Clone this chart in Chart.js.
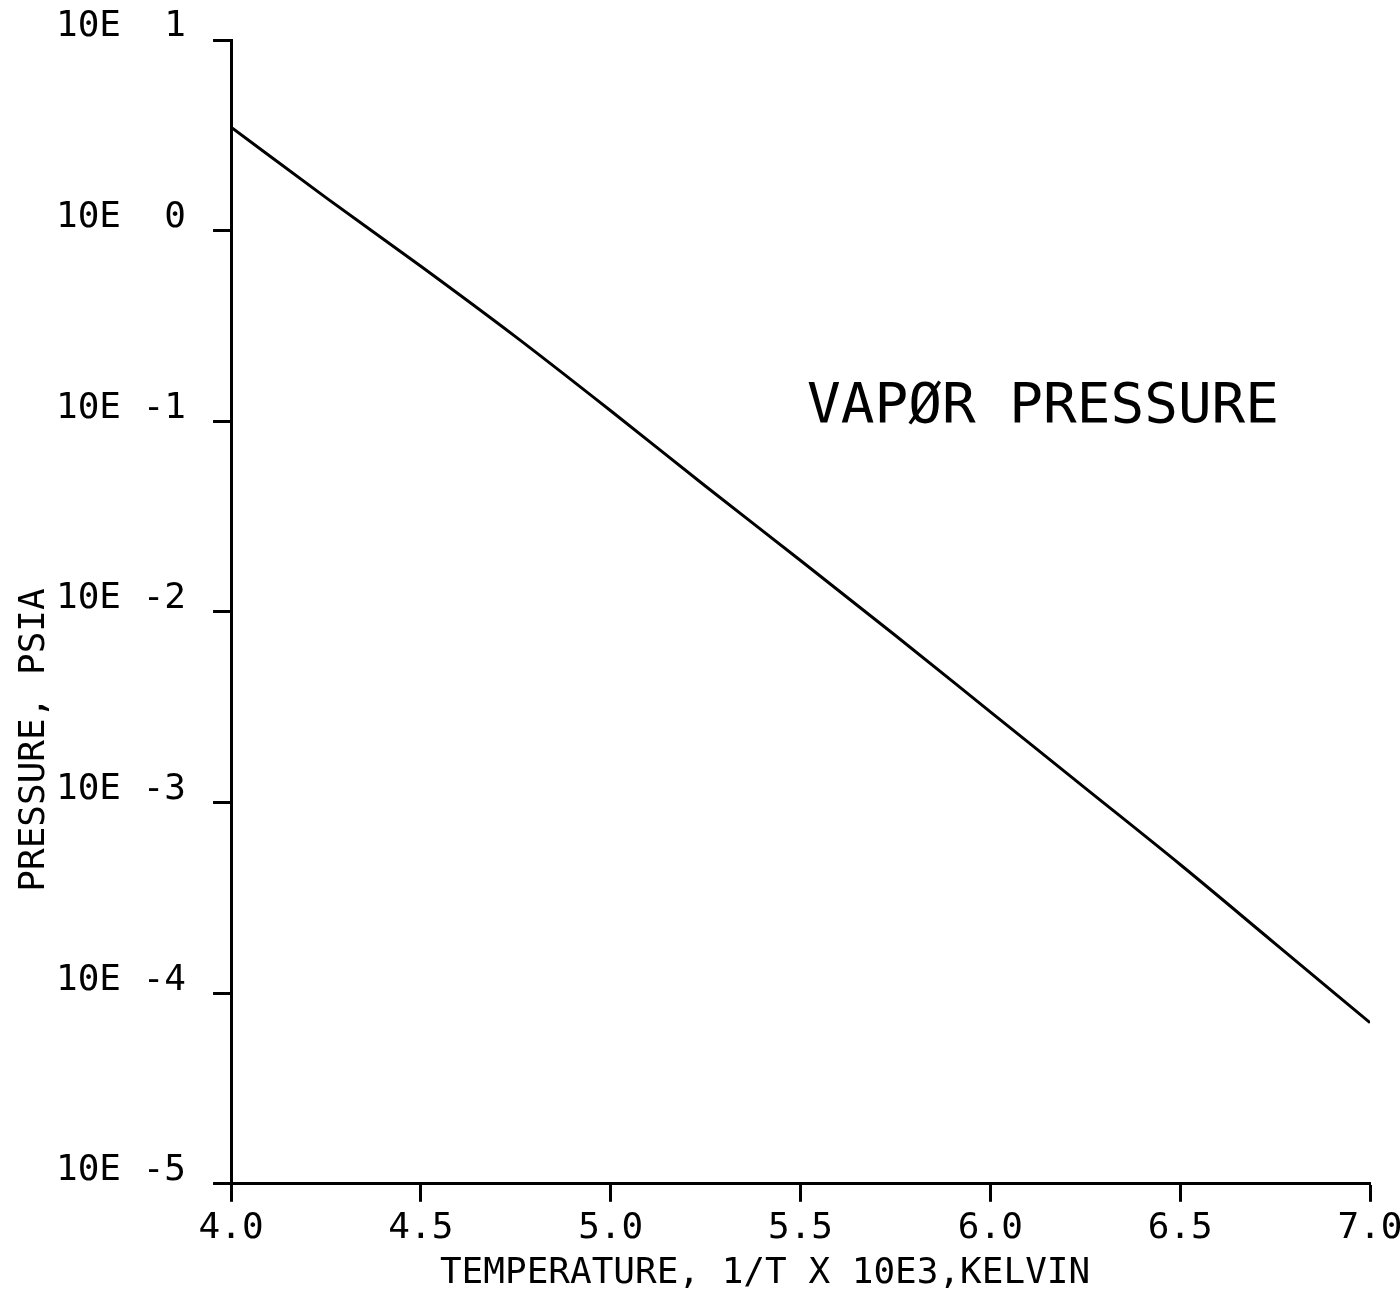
<!DOCTYPE html>
<html>
<head>
<meta charset="utf-8">
<script src="https://cdn.jsdelivr.net/npm/chart.js@4.4.1/dist/chart.umd.min.js"></script>
<style>
  html, body { margin: 0; padding: 0; background: #fff; overflow: hidden; }
  canvas { display: block; }
</style>
</head>
<body>
<canvas id="chart" width="1400" height="1294"></canvas>
<script>
// Vapor pressure vs reciprocal temperature
const temps = [4.0, 4.25, 4.5, 4.75, 5.0, 5.25, 5.5, 5.75, 6.0, 6.25, 6.5, 6.75, 7.0];
const pressures = [3.49, 1.49, 0.650, 0.277, 0.1135, 0.0456, 0.0186, 0.00752, 0.00299,
                   0.00119, 0.000473, 0.000182, 0.00007];
const xTicks = [4.0, 4.5, 5.0, 5.5, 6.0, 6.5, 7.0];
const yExponents = [1, 0, -1, -2, -3, -4, -5];

const FONT = '"DejaVu Sans Mono", "Liberation Mono", monospace';
const X_TITLE = 'TEMPERATURE, 1/T X 10E3,KELVIN';
const Y_TITLE = 'PRESSURE, PSIA';
const NOTE = 'VAPØR PRESSURE';

const textPlugin = {
  id: 'plotterText',
  afterDraw(chart) {
    const { ctx, chartArea } = chart;
    ctx.save();
    ctx.fillStyle = '#000';
    ctx.textBaseline = 'alphabetic';

    // x title
    ctx.font = '36px ' + FONT;
    ctx.textAlign = 'center';
    ctx.fillText(X_TITLE, chartArea.left + 534, chartArea.bottom + 99);

    // y title, rotated
    ctx.save();
    ctx.translate(44, chartArea.top + 700);
    ctx.rotate(-Math.PI / 2);
    ctx.textAlign = 'center';
    ctx.fillText(Y_TITLE, 0, 0);
    ctx.restore();

    // label inside the plot
    ctx.font = '56px ' + FONT;
    ctx.textAlign = 'left';
    ctx.fillText(NOTE, chartArea.left + 576, chartArea.top + 382);
    ctx.restore();
  }
};

new Chart(document.getElementById('chart').getContext('2d'), {
  type: 'scatter',
  data: {
    datasets: [{
      data: temps.map((t, i) => ({ x: t, y: pressures[i] })),
      showLine: true,
      borderColor: '#000',
      borderWidth: 3,
      pointRadius: 0,
      cubicInterpolationMode: 'monotone'
    }]
  },
  options: {
    responsive: false,
    animation: false,
    layout: { padding: { left: 29, top: 40, right: 30, bottom: 39 } },
    plugins: { legend: { display: false }, tooltip: { enabled: false } },
    scales: {
      x: {
        type: 'linear',
        min: 4.0,
        max: 7.0,
        afterBuildTicks: s => { s.ticks = xTicks.map(v => ({ value: v })); },
        afterFit: s => { s.paddingRight = 0; s.paddingLeft = 0; },
        ticks: {
          color: '#000',
          font: { family: FONT, size: 36 },
          padding: 5,
          maxRotation: 0,
          callback: v => Number(v).toFixed(1)
        },
        grid: { drawOnChartArea: false, tickLength: 18, tickWidth: 3, tickColor: '#000' },
        border: { display: true, color: '#000', width: 3 }
      },
      y: {
        type: 'logarithmic',
        min: 1e-5,
        max: 10,
        afterBuildTicks: s => { s.ticks = yExponents.map(e => ({ value: Math.pow(10, e) })); },
        afterFit: s => { s.paddingTop = 0; s.paddingBottom = 0; },
        ticks: {
          color: '#000',
          font: { family: FONT, size: 36 },
          padding: 27,
          labelOffset: -13,
          callback: v => '10E' + String(Math.round(Math.log10(v))).padStart(3, ' ')
        },
        grid: { drawOnChartArea: false, tickLength: 18, tickWidth: 3, tickColor: '#000' },
        border: { display: true, color: '#000', width: 3 }
      }
    }
  },
  plugins: [textPlugin]
});
</script>
</body>
</html>
